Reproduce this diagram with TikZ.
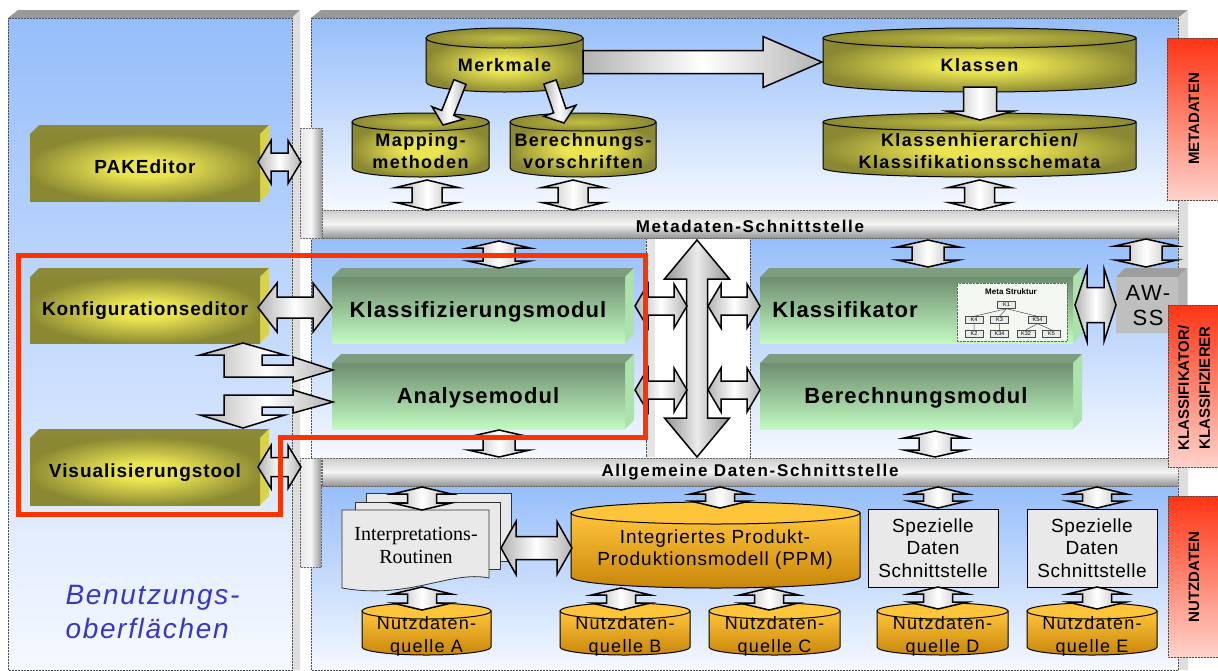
\documentclass[tikz,border=0pt]{standalone}
\usepackage{fontspec}
\setmainfont{Liberation Sans}
\newfontfamily\lsbox{Liberation Sans}[LetterSpace=5]
\newfontfamily\lscyl{Liberation Sans}[LetterSpace=8]
\newfontfamily\lsbar{Liberation Sans}[LetterSpace=10]
\newfontfamily\lsnorm{Liberation Sans}[LetterSpace=5]
\newfontfamily\lsquel{Liberation Sans}[LetterSpace=7]
\newfontfamily\lsspez{Liberation Sans}[LetterSpace=3]
\newfontfamily\lsital{Liberation Sans}[LetterSpace=6]
\newfontfamily\rmtimes{Liberation Serif}
\usetikzlibrary{calc}

\definecolor{skyblue}{HTML}{96BEFA}
\definecolor{paleblue}{HTML}{F6F9FF}
\definecolor{olivedk}{HTML}{8A8832}
\definecolor{olivelt}{HTML}{EAE452}
\definecolor{olivetop}{HTML}{8C8A3A}
\definecolor{oliveside}{HTML}{D8D24C}
\definecolor{greendk}{HTML}{6E8E6F}
\definecolor{greenlt}{HTML}{C2FAC2}
\definecolor{greentop}{HTML}{7E9C7E}
\definecolor{greenside}{HTML}{ACE2AC}
\definecolor{orangelt}{HTML}{FFC53A}
\definecolor{orangedk}{HTML}{C8860A}
\definecolor{redtop}{HTML}{FF3414}
\definecolor{redbot}{HTML}{FFD3CB}
\definecolor{framered}{HTML}{FF3300}
\definecolor{labelblue}{HTML}{3636C8}
\definecolor{docgray}{HTML}{E9E9E9}
\definecolor{insetbg}{HTML}{F3F8F1}
\pgfdeclareradialshading{oliveglow}{\pgfpoint{0bp}{0bp}}{color(0bp)=(olivelt); color(7bp)=(olivelt);
  color(26bp)=(olivedk); color(50bp)=(olivedk)}

\tikzset{
  panel/.style={top color=skyblue, bottom color=paleblue, draw=black!70, densely dotted, line width=0.5pt},
  hbar/.style={top color=black!20, bottom color=black!42, middle color=black!4, draw=black!60, densely dotted, line width=0.5pt},
  vbar/.style={left color=black!10, right color=black!40, middle color=black!3, draw=black!60, densely dotted, line width=0.5pt},
  barr/.style={draw=black, line width=1.5pt, line join=miter, left color=black!30, right color=black!30, middle color=white},
  bigarr/.style={barr, left color=black!42, right color=black!42, middle color=black!8},
  olivefront/.style={shading=oliveglow},
  greenfront/.style={top color=greendk, bottom color=greenlt},
  cylbody/.style={shading=oliveglow, draw=black, line width=1pt},
  cyltop/.style={inner color=olivelt!60!olivedk, outer color=olivedk, draw=black, line width=1pt},
  ocylbody/.style={top color=orangelt, bottom color=orangedk, draw=black, line width=1pt},
  ocyltop/.style={fill=orangelt, draw=black, line width=1pt},
  tag/.style={top color=redtop, bottom color=redbot, draw=black!70, densely dotted, line width=0.5pt},
  docpage/.style={draw=black!80, line width=0.8pt, fill=docgray},
  boxtext/.style={font=\lsbox\bfseries\fontsize{19}{22}\selectfont},
  modtext/.style={font=\lsbox\bfseries\fontsize{22}{26}\selectfont},
  cyltext/.style={font=\lscyl\bfseries\fontsize{18}{22}\selectfont, align=center},
  bartext/.style={font=\lsbar\bfseries\fontsize{17}{20}\selectfont},
  tagtext/.style={rotate=90, align=center, font=\bfseries\fontsize{15}{21}\selectfont},
  quelltext/.style={font=\lsquel\fontsize{18}{23}\selectfont, align=center},
  spez/.style={draw=black, line width=0.8pt, fill=docgray, minimum width=130, minimum height=78,
    inner sep=0, align=center, font=\lsspez\fontsize{19}{22.5}\selectfont},
  kbox/.style={draw=black!70, fill=white!92!black, font=\fontsize{5.5}{6}\selectfont,
    minimum width=18, minimum height=7, inner sep=0}
}

% cylinder: x1, x2, y of top centre, y of bottom centre, y radius, body style, lid style
\newcommand\cyl[7]{%
  \path[#6] (#1,#3) -- (#1,#4)
    .. controls (#1,#4+0.552*#5) and ({0.5*(#1+#2)-0.276*(#2-#1)},#4+#5) .. ({0.5*(#1+#2)},#4+#5)
    .. controls ({0.5*(#1+#2)+0.276*(#2-#1)},#4+#5) and (#2,#4+0.552*#5) .. (#2,#4)
    -- (#2,#3) -- cycle;
  \path[#7] ({0.5*(#1+#2)},#3) ellipse ({0.5*(#2-#1)} and #5);}
% block with depth: x1, y1, x2, y2, front style, top colour, side colour
\newcommand\boxd[7]{%
  \fill[#6] (#1,#2) -- (#1+9,#2-9) -- (#3+9,#2-9) -- (#3,#2) -- cycle;
  \fill[#7] (#3,#2) -- (#3+9,#2-9) -- (#3+9,#4-9) -- (#3,#4) -- cycle;
  \path[#5] (#1,#2) rectangle (#3,#4);}
% block arrows: from, to, shaft half width, head half width, head length
\newcommand\sarr[6][barr]{%
  \path #2 coordinate (dA) #3 coordinate (dB);
  \path ($(dB)!#6pt!(dA)$) coordinate (dK);
  \draw[#1] ($(dA)!#4pt!90:(dB)$) -- ($(dK)!#4pt!-90:(dA)$) -- ($(dK)!#5pt!-90:(dA)$) -- (dB)
    -- ($(dK)!#5pt!90:(dA)$) -- ($(dK)!#4pt!90:(dA)$) -- ($(dA)!#4pt!-90:(dB)$) -- cycle;}
\newcommand\darr[6][barr]{%
  \path #2 coordinate (dA) #3 coordinate (dB);
  \path ($(dA)!#6pt!(dB)$) coordinate (dH) ($(dB)!#6pt!(dA)$) coordinate (dK);
  \draw[#1] (dA) -- ($(dH)!#5pt!90:(dB)$) -- ($(dH)!#4pt!90:(dB)$) -- ($(dK)!#4pt!-90:(dA)$)
    -- ($(dK)!#5pt!-90:(dA)$) -- (dB) -- ($(dK)!#5pt!90:(dA)$) -- ($(dK)!#4pt!90:(dA)$)
    -- ($(dH)!#4pt!-90:(dB)$) -- ($(dH)!#5pt!-90:(dB)$) -- cycle;}

\begin{document}
\begin{tikzpicture}[x=1pt, y={(0,-1pt)}]
\useasboundingbox (0,0) rectangle (1218,670);

% panels
\fill[black!40] (8,18) -- (18,10) -- (300,10) -- (292,18) -- cycle;
\fill[black!13] (292,18) -- (300,10) -- (300,670) -- (292,670) -- cycle;
\path[panel] (8,18) rectangle (292,670);
\fill[black!40] (311,18) -- (321,10) -- (1188,10) -- (1178,18) -- cycle;
\fill[black!13] (1178,18) -- (1188,10) -- (1188,670) -- (1178,670) -- cycle;
\path[panel] (311,18) rectangle (1178,210);
\path[panel] (311,238) rectangle (646,458);
\path[draw=black!70, densely dotted, fill=white] (646,238) rectangle (750,458);
\fill[black!10] (647,239) rectangle (655,457);
\path[panel] (750,238) rectangle (1178,458);
\path[panel] (311,486) rectangle (1178,670);

% interfaces
\path[vbar] (300,128) rectangle (322,238);
\path[hbar] (322,210) rectangle (1178,238);
\path[vbar] (300,458) rectangle (321,567);
\path[hbar] (322,458) rectangle (1178,486);

% metadata stores
\cyl{426}{583}{38}{82}{10}{cylbody}{cyltop}
\cyl{823}{1136}{38}{82}{10}{cylbody}{cyltop}
\cyl{352}{489}{122}{168}{9}{cylbody}{cyltop}
\cyl{510}{656}{122}{168}{9}{cylbody}{cyltop}
\cyl{823}{1136}{122}{168}{9}{cylbody}{cyltop}

% tools and modules
\boxd{30}{134}{260}{201}{olivefront}{olivetop}{oliveside}
\boxd{30}{277}{260}{343}{olivefront}{olivetop}{oliveside}
\boxd{30}{438}{260}{505}{olivefront}{olivetop}{oliveside}
\boxd{332}{277}{625}{343}{greenfront}{greentop}{greenside}
\boxd{332}{363}{625}{429}{greenfront}{greentop}{greenside}
\boxd{760}{277}{1073}{343}{greenfront}{greentop}{greenside}
\boxd{760}{363}{1073}{429}{greenfront}{greentop}{greenside}
\boxd{1116}{277}{1178}{333}{fill=black!25}{black!38}{black!30}

% Meta Struktur
\node[draw=black!60, densely dotted, fill=insetbg, minimum width=110, minimum height=58, inner sep=0] (meta) at (1012,312) {};
\node[font=\bfseries\fontsize{8}{9}\selectfont] (metatitle) at (1011,292) {Meta Struktur};
\node[kbox] (k1) at (1006.5,305) {K1};
\node[kbox] (k4) at (974,320) {K4};
\node[kbox] (k3) at (999.5,320) {K3};
\node[kbox] (k54) at (1037.5,320) {K54};
\node[kbox] (k2) at (974,333.5) {K2};
\node[kbox] (k34) at (999.5,333.5) {K34};
\node[kbox] (k32) at (1026,333.5) {K32};
\node[kbox] (k5) at (1051.5,333.5) {K5};
\draw[black!70, line width=0.5pt] (k1.south) -- (k4.north) (k1.south) -- (k3.north) (k1.south) -- (k54.north)
  (k4) -- (k2) (k3) -- (k34) (k54.south) -- (k32.north) (k54.south) -- (k5.north);

% user data
\draw[docpage] (366,493) rectangle (511,561);
\draw[docpage] (355,502) rectangle (500,569);
\draw[docpage] (342,510) -- (489,510) -- (489,578) .. controls (450,570) and (410,600) .. (342,588) -- cycle;
\cyl{571}{860}{513}{577}{11}{ocylbody}{ocyltop}
\cyl{362}{491}{611}{647}{8}{ocylbody}{ocyltop}
\cyl{560}{690}{611}{647}{8}{ocylbody}{ocyltop}
\cyl{709}{840}{611}{647}{8}{ocylbody}{ocyltop}
\cyl{877}{1008}{611}{647}{8}{ocylbody}{ocyltop}
\cyl{1027}{1157}{611}{647}{8}{ocylbody}{ocyltop}
\node[spez] (spezD) at (933,548) {Spezielle\\Daten\\Schnittstelle};
\node[spez] (spezE) at (1092,548) {Spezielle\\Daten\\Schnittstelle};

% arrows, metadata
\sarr{(583,62)}{(822,62)}{11.5}{25.5}{59}
\sarr{(460,82)}{(443,125)}{6.5}{17}{13}
\sarr{(550,82)}{(564,123)}{6.5}{17}{13}
\sarr{(980,87)}{(980,120)}{16.5}{34}{9}
\darr{(427,180)}{(427,210)}{15}{31}{7.5}
\darr{(573,180)}{(573,210)}{15}{31}{7.5}
\darr{(979.5,180)}{(979.5,210)}{15}{31}{7.5}

% arrows, classifier
\darr{(499,241)}{(499,268)}{16}{31}{7}
\darr{(499,430)}{(499,457)}{16}{31}{7}
\darr{(928,240)}{(928,267)}{16}{31}{7}
\darr{(1146,239)}{(1146,267)}{16}{31}{7}
\darr{(935,431)}{(935,457)}{16}{31}{7}
\darr[bigarr]{(697,240)}{(697,457)}{10.5}{32.5}{39}
\darr{(635,306)}{(687,306)}{9}{22}{13}
\darr{(708,306)}{(760,306)}{9}{22}{13}
\darr{(635,390)}{(687,390)}{9}{22}{13}
\darr{(708,390)}{(760,390)}{9}{22}{13}
\darr{(1075,305)}{(1116,305)}{17.5}{36.5}{12}

% arrows, user interfaces
\darr{(258,162)}{(301,162)}{9}{21.5}{13}
\darr{(258,307.5)}{(332,307.5)}{10.5}{24.5}{19}
\darr{(258,467)}{(301,467)}{9.5}{21.5}{13}
\draw[barr] (243,343) -- (285,355) -- (262,355) -- (262,365) -- (293,365) -- (293,357) -- (333,370)
  -- (293,382) -- (293,377) -- (224,377) -- (224,355) -- (200,355) -- cycle;
\draw[barr] (243,428) -- (285,415) -- (262,415) -- (262,407) -- (293,407) -- (293,413) -- (333,402)
  -- (293,390) -- (293,395) -- (224,395) -- (224,415) -- (200,415) -- cycle;

% arrows, user data
\darr{(422,487)}{(422,510)}{14.5}{29.5}{7}
\darr{(422,587)}{(422,610)}{14.5}{29.5}{7}
\darr{(720,487)}{(720,508)}{14.5}{29.5}{7}
\darr{(621,588)}{(621,610)}{14.5}{29.5}{7}
\darr{(769,588)}{(769,610)}{14.5}{29.5}{7}
\darr{(938,487)}{(938,508)}{14.5}{29.5}{7}
\darr{(938,587)}{(938,609)}{14.5}{29.5}{7}
\darr{(1097,487)}{(1097,508)}{14.5}{29.5}{7}
\darr{(1097,587)}{(1097,609)}{14.5}{29.5}{7}
\darr{(501,548)}{(572,548)}{11.5}{26.5}{15}

% layer tags
\path[tag] (1167,38) rectangle (1222,200);
\path[tag] (1168,305) rectangle (1222,467);
\path[tag] (1168,496) rectangle (1222,657);

% highlighted frame
\draw[framered, line width=5pt, line join=miter] (18,255) -- (645,255) -- (645,437) -- (280,437)
  -- (280,514) -- (18,514) -- cycle;

% labels
\node[cyltext] (merk) at (504.5,65.5) {Merkmale};
\node[cyltext] (klassen) at (979.5,65.5) {Klassen};
\node[cyltext] (mapping) at (420.5,151) {Mapping-\\methoden};
\node[cyltext] (berech) at (583,151) {Berechnungs-\\vorschriften};
\node[cyltext] (hier) at (979.5,151) {Klassenhierarchien/\\Klassifikationsschemata};
\node[bartext] (metaif) at (750,226) {Metadaten-Schnittstelle};
\node[bartext] (datif) at (750,472) {Allgemeine Daten-Schnittstelle};
\node[boxtext] (pak) at (145,167) {PAKEditor};
\node[boxtext] (konf) at (145,311) {Konfigurationseditor};
\node[boxtext] (visu) at (145,473) {Visualisierungstool};
\node[modtext] (klmod) at (478,312) {Klassifizierungsmodul};
\node[modtext] (anmod) at (478,398) {Analysemodul};
\node[modtext] (klf) at (845,310) {Klassifikator};
\node[modtext] (bmod) at (916,398) {Berechnungsmodul};
\node[font=\lsquel\fontsize{22}{25}\selectfont, align=center] (awss) at (1148,306) {AW-\\SS};
\node[font=\rmtimes\fontsize{20}{23}\selectfont, align=center] (interp) at (416,545) {Interpretations-\\Routinen};
\node[font=\lsnorm\fontsize{19}{22}\selectfont, align=center] (ppm) at (715,550) {Integriertes Produkt-\\Produktionsmodell (PPM)};
\node[quelltext] (qA) at (426.5,636) {Nutzdaten-\\quelle A};
\node[quelltext] (qB) at (625,636) {Nutzdaten-\\quelle B};
\node[quelltext] (qC) at (774.5,636) {Nutzdaten-\\quelle C};
\node[quelltext] (qD) at (942.5,636) {Nutzdaten-\\quelle D};
\node[quelltext] (qE) at (1092,636) {Nutzdaten-\\quelle E};
\node[tagtext] (tmeta) at (1194,119) {METADATEN};
\node[tagtext] (tklass) at (1194,388) {KLASSIFIKATOR/\\KLASSIFIZIERER};
\node[tagtext] (tnutz) at (1194,577) {NUTZDATEN};
\node[anchor=west, align=left, text=labelblue, font=\lsital\itshape\fontsize{28}{34}\selectfont] (benutz) at (62,612) {Benutzungs-\\oberflächen};
\end{tikzpicture}
\end{document}
